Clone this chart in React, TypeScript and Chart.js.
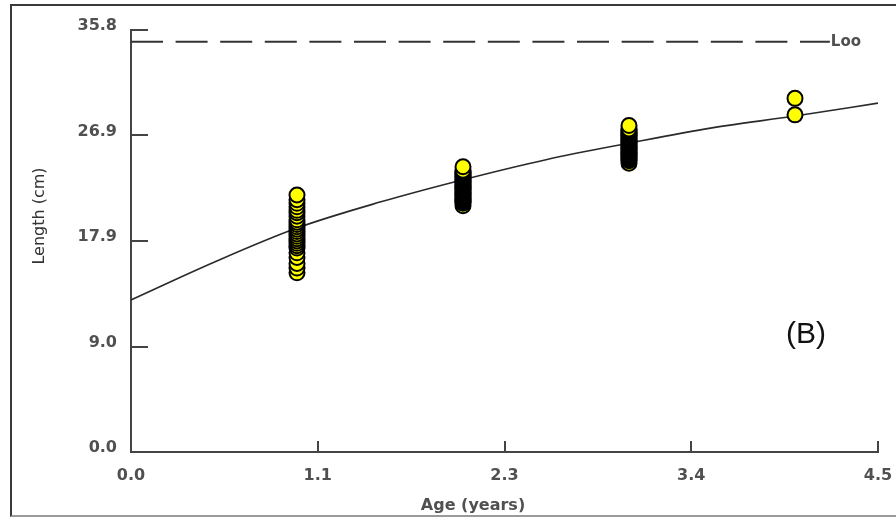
import React, { useEffect, useRef } from "react";
import { Chart, registerables } from "chart.js";

Chart.register(...registerables);

// ---- Data ----
const obsAges = [1, 2, 3, 4];
const lengthsAge1 = [15.2, 15.6, 16.0, 16.5, 16.9, 17.3, 17.5, 17.7, 17.9, 18.1, 18.3, 18.5, 18.7, 18.9, 19.1, 19.3, 19.5, 19.7, 20.0, 20.3, 20.5, 20.8, 21.1, 21.4, 21.8];
const lengthsAge2 = [20.9, 21.1, 21.2, 21.3, 21.4, 21.5, 21.6, 21.7, 21.8, 21.9, 22.0, 22.1, 22.2, 22.3, 22.4, 22.5, 22.6, 22.7, 22.8, 22.9, 23.0, 23.1, 23.2, 23.3, 23.4, 23.5, 23.6, 23.7, 23.8, 23.9, 24.2];
const lengthsAge3 = [24.5, 24.7, 24.8, 24.9, 25.0, 25.1, 25.2, 25.3, 25.4, 25.5, 25.6, 25.7, 25.8, 25.9, 26.0, 26.1, 26.2, 26.3, 26.4, 26.5, 26.6, 26.7, 26.8, 26.9, 27.0, 27.1, 27.2, 27.3, 27.4, 27.7];
const lengthsAge4 = [28.6, 30.0];

const curveAges = [0, 0.5, 1, 1.5, 2, 2.5, 3, 3.5, 4, 4.5];
const curveLengths = [12.9, 16.1, 19.0, 21.2, 23.1, 24.8, 26.2, 27.5, 28.5, 29.6];

const lInf = 34.8;
const lInfLineAges = [0, 4.21];
const lInfLabel = "Loo";
const panelLabel = "(B)";

const xTickValues = [0, 1.125, 2.25, 3.375, 4.5];
const xTickLabels = ["0.0", "1.1", "2.3", "3.4", "4.5"];
const yTickValues = [0, 8.95, 17.9, 26.85, 35.8];
const yTickLabels = ["0.0", "9.0", "17.9", "26.9", "35.8"];

const xTitle = "Age (years)";
const yTitle = "Length (cm)";

const FONT = '"DejaVu Sans", Verdana, sans-serif';
const AXIS_COLOR = "#444";
const TEXT_COLOR = "#505050";

const lengthGroups = [lengthsAge1, lengthsAge2, lengthsAge3, lengthsAge4];

const decorPlugin = {
  id: "decor",
  afterDraw(chart: any) {
    const { ctx, chartArea: ca, scales } = chart;
    const x = scales.x;
    const y = scales.y;
    ctx.save();
    // inward tick marks
    ctx.strokeStyle = AXIS_COLOR;
    ctx.lineWidth = 2;
    yTickValues.forEach((v) => {
      const py = Math.round(y.getPixelForValue(v));
      ctx.beginPath();
      ctx.moveTo(ca.left, py);
      ctx.lineTo(ca.left + 17, py);
      ctx.stroke();
    });
    xTickValues.forEach((v) => {
      const px = Math.round(x.getPixelForValue(v));
      ctx.beginPath();
      ctx.moveTo(px, ca.bottom);
      ctx.lineTo(px, ca.bottom - 11);
      ctx.stroke();
    });
    // Loo label
    ctx.fillStyle = TEXT_COLOR;
    ctx.font = `bold 15px ${FONT}`;
    ctx.textAlign = "left";
    ctx.textBaseline = "middle";
    ctx.fillText(lInfLabel, x.getPixelForValue(lInfLineAges[1]) + 1, y.getPixelForValue(lInf));
    // panel label
    ctx.fillStyle = "#111";
    ctx.font = `30px "Liberation Sans", Arial, sans-serif`;
    ctx.textAlign = "center";
    ctx.fillText(panelLabel, ca.left + 675, ca.top + 305);
    // axis titles
    ctx.fillStyle = TEXT_COLOR;
    ctx.font = `bold 16px ${FONT}`;
    ctx.textAlign = "center";
    ctx.textBaseline = "middle";
    ctx.fillText(xTitle, ca.left + 342, ca.bottom + 54);
    ctx.save();
    ctx.translate(40, ca.top + 186);
    ctx.rotate(-Math.PI / 2);
    ctx.font = `16px ${FONT}`;
    ctx.fillStyle = "#333";
    ctx.fillText(yTitle, 0, 0);
    ctx.restore();
    ctx.restore();
  },
};

export default function App() {
  const canvasRef = useRef<HTMLCanvasElement | null>(null);

  useEffect(() => {
    const canvas = canvasRef.current;
    if (!canvas) return;
    const observed: { x: number; y: number }[] = [];
    obsAges.forEach((age, i) => {
      lengthGroups[i].forEach((len) => observed.push({ x: age, y: len }));
    });
    const curve = curveAges.map((a, i) => ({ x: a, y: curveLengths[i] }));
    const lInfLine = lInfLineAges.map((a) => ({ x: a, y: lInf }));

    const chart = new Chart(canvas, {
      type: "scatter",
      data: {
        datasets: [
          {
            label: "Observed",
            data: observed,
            pointRadius: 7.5,
            pointHoverRadius: 7.5,
            pointBackgroundColor: "#ffff00",
            pointBorderColor: "#000",
            pointBorderWidth: 2,
            showLine: false,
          },
          {
            label: "VBGF",
            data: curve,
            showLine: true,
            borderColor: "#2a2a2a",
            borderWidth: 1.6,
            pointRadius: 0,
            cubicInterpolationMode: "monotone",
            fill: false,
          },
          {
            label: "Loo",
            data: lInfLine,
            showLine: true,
            borderColor: "#333",
            borderWidth: 2,
            borderDash: [32, 12.6],
            pointRadius: 0,
            fill: false,
          },
        ],
      },
      options: {
        animation: false,
        responsive: true,
        maintainAspectRatio: false,
        layout: { padding: { top: 30, right: 18, left: 0, bottom: 0 } },
        plugins: {
          legend: { display: false },
          tooltip: { enabled: false },
        },
        scales: {
          x: {
            type: "linear",
            min: 0,
            max: 4.5,
            afterBuildTicks: (scale: any) => {
              scale.ticks = xTickValues.map((v) => ({ value: v }));
            },
            afterFit: (scale: any) => {
              scale.height = 70;
              scale.paddingLeft = 0;
              scale.paddingRight = 0;
            },
            ticks: {
              callback: (_v: any, i: number) => xTickLabels[i],
              color: TEXT_COLOR,
              font: { family: FONT, size: 16, weight: "bold" },
              padding: 14,
              maxRotation: 0,
              autoSkip: false,
            },
            grid: { drawOnChartArea: false, drawTicks: false, color: AXIS_COLOR },
            border: { display: true, color: AXIS_COLOR, width: 2 },
          },
          y: {
            type: "linear",
            min: 0,
            max: 35.8,
            afterBuildTicks: (scale: any) => {
              scale.ticks = yTickValues.map((v) => ({ value: v }));
            },
            afterFit: (scale: any) => {
              scale.width = 131;
              scale.paddingTop = 0;
              scale.paddingBottom = 0;
            },
            ticks: {
              callback: (_v: any, i: number) => yTickLabels[i],
              color: TEXT_COLOR,
              font: { family: FONT, size: 16, weight: "bold" },
              padding: 14,
              labelOffset: -4,
              autoSkip: false,
            },
            grid: { drawOnChartArea: false, drawTicks: false, color: AXIS_COLOR },
            border: { display: true, color: AXIS_COLOR, width: 2 },
          },
        },
      },
      plugins: [decorPlugin],
    });
    return () => chart.destroy();
  }, []);

  return (
    <div
      style={{
        position: "fixed",
        left: 0,
        top: 0,
        width: 896,
        height: 522,
        overflow: "hidden",
        background: "#fff",
      }}
    >
      <div
        style={{
          position: "absolute",
          left: 10,
          top: 4,
          width: 900,
          height: 513,
          border: "2px solid #3a3a3a",
          borderBottomColor: "#9a9a9a",
          boxSizing: "border-box",
        }}
      />
      <div style={{ position: "absolute", left: 0, top: 0, width: 896, height: 522 }}>
        <canvas ref={canvasRef} />
      </div>
    </div>
  );
}
